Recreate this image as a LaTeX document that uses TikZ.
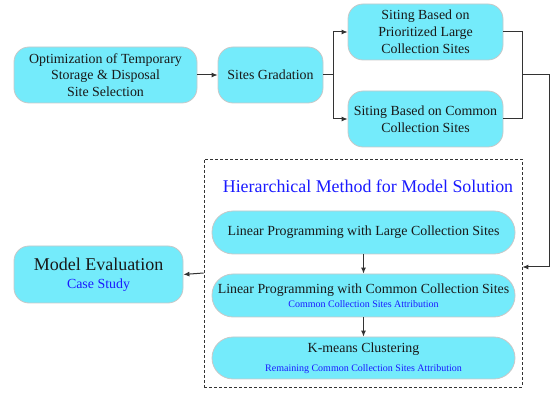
\documentclass[tikz,border=0pt]{standalone}
\usepackage{fontspec}
\setmainfont{Liberation Serif}
\usetikzlibrary{arrows.meta}
\definecolor{boxfill}{HTML}{74EBFB}
\definecolor{boxline}{HTML}{C8C8C8}
\definecolor{bluetext}{HTML}{1A1AFF}
\definecolor{lineclr}{HTML}{333333}
\tikzset{
  rbox/.style={draw=boxline, line width=0.8pt, fill=boxfill, rounded corners=15pt,
    align=center, inner sep=0pt, font=\fontsize{13.9}{16.8}\selectfont, text=black!90},
  pill/.style={rbox, rounded corners=21pt, minimum width=303pt},
  arr/.style={draw=lineclr, line width=1pt, -{Latex[length=6pt,width=5pt]}},
  ln/.style={draw=lineclr, line width=1pt},
}
\begin{document}
\begin{tikzpicture}[x=1pt,y=-1pt]
\useasboundingbox (0,0) rectangle (558,393);
\node[rbox, minimum width=183pt, minimum height=56pt] (opt) at (105.5,75)
  {Optimization of Temporary\\Storage \& Disposal\\Site Selection};
\node[rbox, minimum width=105pt, minimum height=56pt] (grad) at (270.5,75) {Sites Gradation};
\node[rbox, minimum width=155pt, minimum height=56pt] (large) at (425.5,32)
  {Siting Based on\\Prioritized Large\\Collection Sites};
\node[rbox, minimum width=155pt, minimum height=56pt] (common) at (425.5,119)
  {Siting Based on Common\\Collection Sites};
\node[draw=black!80, dash pattern=on 3pt off 2pt, line width=0.8pt, minimum width=318pt, minimum height=228pt, inner sep=0pt] (hier) at (363,273) {};
\node[font=\fontsize{17.9}{20}\selectfont, text=bluetext] (title) at (368,186) {Hierarchical Method for Model Solution};
\node[pill, minimum height=43pt] (lp1) at (363.5,232.5) {Linear Programming with Large Collection Sites};
\node[pill, minimum height=43pt] (lp2) at (363.5,295.5)
  {Linear Programming with Common Collection Sites\\[-3pt]{\fontsize{10}{12}\selectfont\color{bluetext}Common Collection Sites Attribution}};
\node[pill, minimum height=42pt] (km) at (363.5,358)
  {K-means Clustering\\[2pt]{\fontsize{10}{12}\selectfont\color{bluetext}Remaining Common Collection Sites Attribution}};
\node[rbox, minimum width=169pt, minimum height=57pt] (eval) at (98.5,274.5)
  {{\fontsize{18}{20}\selectfont Model Evaluation}\\[1pt]{\color{bluetext}Case Study}};
\coordinate (split) at (333,75);
\coordinate (merge) at (522,75);
\coordinate (turn) at (549,267);
\draw[arr] (opt.east) -- (grad.west);
\draw[ln] (grad.east) -- (split);
\draw[arr] (split) |- (large.west);
\draw[arr] (split) |- (common.west);
\draw[ln] (large.east) -| (merge);
\draw[ln] (common.east) -| (merge);
\draw[arr] (merge) -| (turn) -- (hier.east |- turn);
\draw[arr] (lp1) -- (lp2);
\draw[arr] (lp2) -- (km);
\draw[arr] (hier.west) -- (eval.east);
\end{tikzpicture}
\end{document}
